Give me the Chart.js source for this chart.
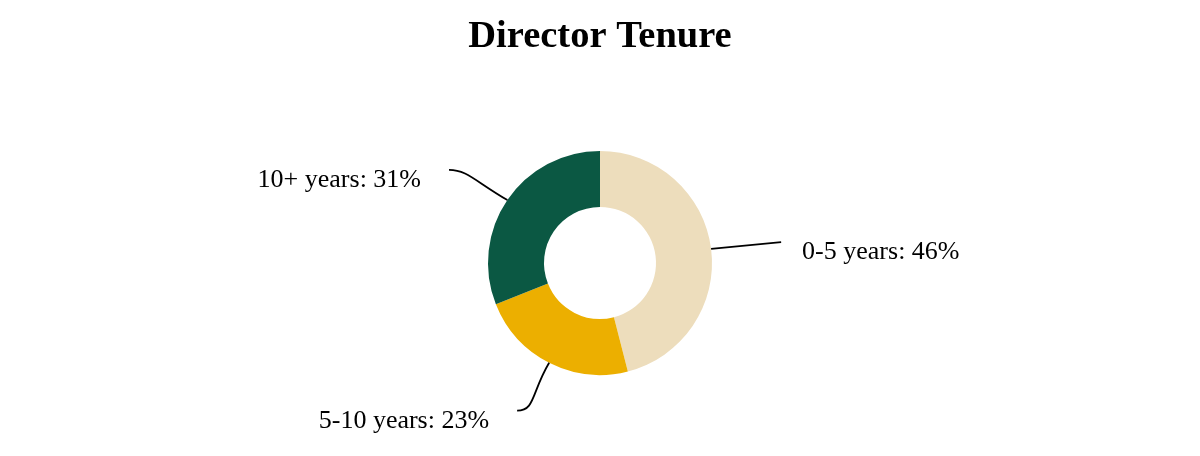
<!DOCTYPE html>
<html>
<head>
<meta charset="utf-8">
<script src="https://cdn.jsdelivr.net/npm/chart.js@4"></script>
<style>
html,body{margin:0;padding:0;background:#fff;}
#wrap{width:1200px;height:456px;}
</style>
</head>
<body>
<div id="wrap"><canvas id="c" width="1200" height="456"></canvas></div>
<script>
const categories = ["0-5 years", "5-10 years", "10+ years"];
const values = [46, 23, 31];
const colors = ["#EDDDBC", "#ECAF00", "#0B5843"];
const titleText = "Director Tenure";

const leaderPlugin = {
  id: 'leaders',
  afterDatasetsDraw(chart) {
    const ctx = chart.ctx;
    const meta = chart.getDatasetMeta(0);
    const total = values.reduce((a, b) => a + b, 0);
    ctx.save();
    meta.data.forEach((arc, i) => {
      const a = (arc.startAngle + arc.endAngle) / 2;
      const R = arc.outerRadius;
      const cx = arc.x, cy = arc.y;
      const cos = Math.cos(a), sin = Math.sin(a);
      const p0 = [cx + R * cos, cy + R * sin];
      const c1 = [cx + 1.35 * R * cos, cy + 1.3 * R * sin];
      const end = [cx + 1.63 * R * cos, cy + 1.48 * R * sin];
      const dir = cos >= 0 ? 1 : -1;
      const c2 = [end[0] - dir * 18, end[1]];
      ctx.beginPath();
      ctx.strokeStyle = '#000';
      ctx.lineWidth = 1.8;
      ctx.moveTo(p0[0], p0[1]);
      if (Math.abs(sin) < 0.25) {
        ctx.lineTo(end[0], end[1]);
      } else {
        ctx.bezierCurveTo(c1[0], c1[1], c2[0], c2[1], end[0], end[1]);
      }
      ctx.stroke();
      const pct = Math.round(values[i] / total * 100);
      ctx.fillStyle = '#000';
      ctx.font = '26px "Liberation Serif", "Times New Roman", serif';
      ctx.textBaseline = 'middle';
      ctx.textAlign = dir > 0 ? 'left' : 'right';
      const gap = dir > 0 ? 21 : 28;
      ctx.fillText(categories[i] + ': ' + pct + '%', end[0] + dir * gap, end[1] + 10);
    });
    ctx.restore();
  }
};

new Chart(document.getElementById('c'), {
  type: 'doughnut',
  data: {
    labels: categories,
    datasets: [{
      data: values,
      backgroundColor: colors,
      borderWidth: 0,
      hoverOffset: 0
    }]
  },
  options: {
    responsive: false,
    animation: false,
    cutout: '50%',
    layout: { padding: { top: 0, bottom: 81, left: 0, right: 0 } },
    plugins: {
      legend: { display: false },
      tooltip: { enabled: false },
      title: {
        display: true,
        text: titleText,
        color: '#000',
        font: { family: '"Liberation Serif", "Times New Roman", serif', size: 38.5, weight: 'bold', lineHeight: 1.2 },
        padding: { top: 14, bottom: 90.8 }
      }
    }
  },
  plugins: [leaderPlugin]
});
</script>
</body>
</html>
